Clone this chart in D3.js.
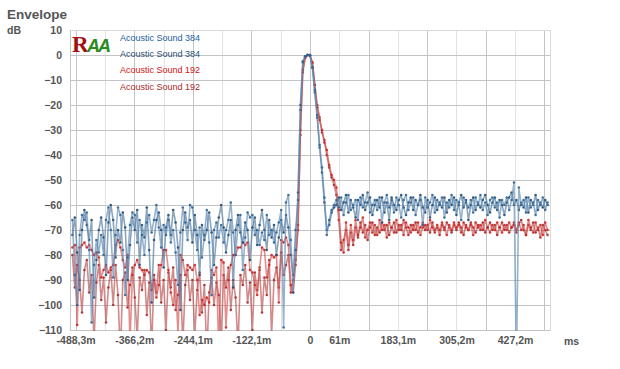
<!DOCTYPE html>
<html>
<head>
<meta charset="utf-8">
<script src="https://cdn.jsdelivr.net/npm/d3@7"></script>
<style>
body { margin: 0; background: #fff; }
text { font-family: "Liberation Sans", Arial, sans-serif; }
</style>
</head>
<body>
<svg id="chart" width="620" height="369"></svg>
<script>
// sample grid: first sample time and spacing in ms
var startMs = -495, stepMs = 5;

var blueA = [
  -66,-88,-100,-72,-64,-66,-63,-78,-107,-84,
  -74,-79,-72,-80,-66,-61,-70,-89,-72,-61,
  -64,-78,-96,-81,-68,-63,-64,-75,-66,-72,
  -80,-67,-64,-71,-66,-60,-69,-77,-68,-72,
  -66,-75,-70,-79,-92,-71,-61,-67,-74,-60,
  -61,-70,-78,-69,-81,-72,-62,-75,-96,-70,
  -67,-73,-68,-75,-70,-66,-59,-71,-80,-68,
  -64,-86,-73,-63,-65,-64,-72,-70,-76,-71,
  -74,-64,-72,-70,-75,-71,-67,-62,-109,-59,
  -56,-74,-95,-78,-55,-20,-2.5,-0.5,0,0,
  -5,-14,-24,-36,-45,-57,-72,-66,-62,-60,
  -58,-61,-57,-64,-59,-56,-62,-60,-58,-66,
  -57,-61,-59,-55,-63,-60,-58,-62,-57,-67,
  -59,-56,-61,-58,-63,-57,-60,-65,-58,-56,
  -62,-59,-57,-64,-60,-58,-68,-57,-61,-59,
  -56,-63,-58,-60,-57,-65,-59,-61,-56,-62,
  -58,-60,-66,-57,-59,-61,-58,-63,-57,-60,
  -56,-62,-59,-64,-58,-57,-61,-59,-65,-58,
  -60,-57,-62,-58,-51,-125,-53,-60,-58,-63,
  -57,-61,-59,-64,-58,-60,-57,-62,-59
];

var blueB = [
  -72,-65,-79,-94,-70,-62,-68,-74,-66,-97,
  -82,-70,-65,-73,-88,-67,-60,-66,-81,-70,
  -75,-63,-69,-90,-76,-65,-70,-62,-84,-68,
  -73,-61,-78,-99,-74,-66,-63,-70,-85,-69,
  -64,-72,-62,-67,-77,-102,-70,-63,-69,-66,
  -75,-64,-72,-88,-68,-74,-70,-63,-71,-84,
  -73,-65,-60,-69,-79,-72,-66,-93,-70,-64,
  -71,-75,-67,-70,-82,-69,-65,-76,-68,-62,
  -70,-78,-66,-73,-68,-80,-73,-66,-71,-64,
  -69,-80,-88,-70,-58,-22,-3,-0.5,0,-0.3,
  -5,-15,-25,-37,-47,-59,-70,-68,-63,-61,
  -60,-57,-62,-59,-56,-63,-58,-61,-65,-58,
  -60,-56,-62,-59,-57,-64,-60,-58,-61,-57,
  -63,-59,-66,-57,-60,-62,-58,-56,-61,-64,
  -59,-57,-62,-58,-60,-56,-61,-63,-58,-65,
  -60,-57,-62,-59,-61,-57,-63,-58,-60,-57,
  -64,-59,-56,-61,-58,-66,-60,-57,-62,-59,
  -61,-58,-56,-60,-63,-59,-57,-62,-58,-60,
  -64,-59,-57,-55,-60,-58,-62,-59,-61,-57,
  -63,-58,-60,-56,-62,-59,-61,-58,-60
];

var redA = [
  -77,-76,-108,-77,-76,-75,-77,-76,-78,-80,
  -79,-81,-89,-86,-84,-87,-85,-84,-76,-74,
  -77,-82,-85,-80,-115,-88,-84,-82,-85,-86,
  -88,-86,-87,-94,-90,-97,-92,-84,-78,-78,
  -86,-95,-100,-90,-112,-80,-82,-88,-84,-85,
  -86,-84,-90,-104,-98,-100,-97,-99,-86,-88,
  -85,-118,-82,-83,-109,-90,-84,-80,-80,-77,
  -77,-75,-76,-75,-86,-87,-92,-96,-85,-77,
  -78,-89,-84,-80,-81,-80,-99,-74,-75,-73,
  -76,-92,-95,-84,-68,-30,-6,-1,0,0,
  -3,-12,-21,-26,-30,-35,-38,-44,-48,-50,
  -53,-62,-75,-79,-67,-76,-68,-74,-66,-72,
  -69,-65,-73,-70,-67,-71,-68,-72,-66,-70,
  -68,-73,-67,-69,-71,-66,-70,-68,-72,-67,
  -69,-71,-68,-70,-67,-72,-69,-68,-70,-66,
  -69,-71,-68,-70,-67,-69,-72,-68,-70,-67,
  -69,-68,-71,-67,-69,-70,-68,-72,-67,-69,
  -68,-70,-66,-69,-71,-68,-70,-67,-69,-71,
  -68,-70,-67,-69,-68,-71,-67,-70,-68,-72,
  -66,-69,-71,-67,-70,-68,-72,-67,-70
];

var redB = [
  -80,-93,-84,-90,-103,-86,-82,-95,-88,-115,
  -91,-84,-98,-89,-107,-93,-86,-100,-84,-96,
  -120,-90,-87,-101,-92,-85,-97,-113,-89,-94,
  -86,-104,-91,-118,-88,-95,-84,-99,-90,-110,
  -87,-93,-85,-102,-96,-88,-116,-92,-86,-98,
  -90,-112,-94,-87,-103,-92,-120,-95,-89,-100,
  -91,-96,-114,-88,-93,-85,-102,-90,-97,-117,
  -88,-92,-84,-99,-91,-110,-87,-94,-86,-103,
  -89,-96,-82,-112,-90,-85,-93,-79,-88,-84,
  -80,-95,-90,-82,-70,-32,-7,-1,0,-0.3,
  -3,-12,-20,-25,-31,-34,-40,-45,-49,-52,
  -56,-66,-78,-74,-70,-78,-71,-76,-69,-73,
  -67,-71,-68,-74,-69,-67,-72,-69,-71,-67,
  -70,-68,-72,-69,-67,-71,-68,-70,-66,-69,
  -72,-68,-70,-67,-71,-69,-67,-70,-68,-71,
  -67,-70,-69,-72,-68,-70,-67,-69,-71,-68,
  -70,-67,-69,-72,-68,-70,-67,-69,-71,-68,
  -70,-67,-71,-69,-67,-70,-68,-72,-69,-67,
  -70,-68,-71,-69,-67,-70,-68,-66,-70,-72,
  -68,-70,-67,-71,-69,-73,-68,-70,-72
];

var seriesNames = ["Acoustic Sound 384", "Acoustic Sound 384", "Acoustic Sound 192", "Acoustic Sound 192"];
var yTicks = [10, 0, -10, -20, -30, -40, -50, -60, -70, -80, -90, -100, -110];
var xMajor = [-488.3, -366.2, -244.1, -122.1, 0, 122.1, 244.1, 366.2, 488.3];
var xMinor = [-427.2, -305.2, -183.1, -61, 61, 183.1, 305.2, 427.2];
var xTicks = [-488.3, -366.2, -244.1, -122.1, 0, 61, 183.1, 305.2, 427.2];
var xLabels = ["-488,3m", "-366,2m", "-244,1m", "-122,1m", "0", "61m", "183,1m", "305,2m", "427,2m"];

var plotL = 70, plotR = 550, plotT = 30, plotB = 330;

var svg = d3.select("#chart");

var x = d3.scaleLinear().domain([-500, 500]).range([plotL, plotR]);
var y = d3.scaleLinear().domain([-110, 10]).range([plotB, plotT]);

svg.append("text")
    .attr("x", 7).attr("y", 19)
    .style("font-size", "13.5px").style("font-weight", "bold")
    .style("fill", "#555")
    .text("Envelope");

svg.append("text")
    .attr("x", 7).attr("y", 34)
    .style("font-size", "10.5px").style("font-weight", "bold")
    .style("fill", "#555")
    .text("dB");

svg.append("text")
    .attr("x", 564).attr("y", 345)
    .style("font-size", "10.5px").style("font-weight", "bold")
    .style("fill", "#555")
    .text("ms");

// gridlines
var grid = svg.append("g");
grid.selectAll(".vminor").data(xMinor).enter().append("line")
    .attr("x1", d => Math.round(x(d)) + 0.5).attr("x2", d => Math.round(x(d)) + 0.5)
    .attr("y1", plotT).attr("y2", plotB)
    .style("stroke", "#e2e2e2").style("stroke-width", 1);
grid.selectAll(".vmajor").data(xMajor).enter().append("line")
    .attr("x1", d => Math.round(x(d)) + 0.5).attr("x2", d => Math.round(x(d)) + 0.5)
    .attr("y1", plotT).attr("y2", plotB)
    .style("stroke", "#c4c4c4").style("stroke-width", 1);
grid.selectAll(".h").data(yTicks.filter(d => d < 10 && d > -110)).enter().append("line")
    .attr("x1", plotL).attr("x2", plotR)
    .attr("y1", d => Math.round(y(d)) + 0.5).attr("y2", d => Math.round(y(d)) + 0.5)
    .style("stroke", "#c4c4c4").style("stroke-width", 1);

// frame
svg.append("rect")
    .attr("x", plotL + 0.5).attr("y", plotT + 0.5)
    .attr("width", plotR - plotL).attr("height", plotB - plotT)
    .style("fill", "none").style("stroke", "#dadada");
svg.append("path")
    .attr("d", "M" + (plotL + 0.5) + "," + plotT + "V" + (plotB + 0.5) + "H" + (plotR + 0.5))
    .style("fill", "none").style("stroke", "#c4c4c4");

// axis labels
var yAxis = d3.axisLeft(y).tickValues(yTicks).tickSize(0).tickPadding(8);
var gy = svg.append("g").attr("transform", "translate(" + plotL + ",0)").call(yAxis);
gy.select(".domain").remove();
gy.selectAll("text")
    .attr("x", -8)
    .style("font-family", "'Liberation Sans', Arial, sans-serif")
    .style("font-size", "10.5px").style("font-weight", "bold").style("fill", "#555");

var xAxis = d3.axisBottom(x).tickValues(xTicks).tickSize(0).tickPadding(7)
    .tickFormat((d, i) => xLabels[i]);
var gx = svg.append("g").attr("transform", "translate(0," + plotB + ")").call(xAxis);
gx.select(".domain").remove();
gx.selectAll("text")
    .style("font-family", "'Liberation Sans', Arial, sans-serif")
    .style("font-size", "10.5px").style("font-weight", "bold").style("fill", "#555");

// clip
svg.append("clipPath").attr("id", "plotclip")
  .append("rect").attr("x", plotL).attr("y", plotT).attr("width", plotR - plotL).attr("height", plotB - plotT + 1);

var series = [
  { values: redB,  line: "#b84a4a", dot: "#a82828" },
  { values: redA,  line: "#d65050", dot: "#cc2020" },
  { values: blueB, line: "#4d7499", dot: "#22496f" },
  { values: blueA, line: "#5d8ab3", dot: "#2c6294" }
];

var line = d3.line()
    .x((d, i) => x(startMs + i * stepMs))
    .y(d => y(d));

var plot = svg.append("g").attr("clip-path", "url(#plotclip)");

series.forEach(function(s) {
  var g = plot.append("g");
  g.append("path")
      .datum(s.values)
      .attr("d", line)
      .style("fill", "none")
      .style("stroke", s.line)
      .style("stroke-width", 1.6)
      .style("stroke-opacity", 0.65)
      .style("stroke-linejoin", "round");
  g.selectAll("circle").data(s.values).enter().append("circle")
      .attr("cx", (d, i) => x(startMs + i * stepMs))
      .attr("cy", d => y(d))
      .attr("r", 1.3)
      .style("fill", s.dot)
      .style("fill-opacity", 0.85);
});

// logo
var logo = svg.append("g").attr("transform", "translate(72,52)");
logo.append("text")
    .attr("x", 0).attr("y", 0)
    .style("font-family", "'Liberation Serif', serif")
    .style("font-size", "23px").style("font-weight", "bold")
    .style("fill", "#a30f0f")
    .text("R");
logo.append("text")
    .attr("x", 15).attr("y", 0)
    .style("font-size", "18px").style("font-weight", "bold").style("font-style", "italic")
    .style("letter-spacing", "-2px")
    .style("fill", "#2c8a1c")
    .text("AA");

// legend
var legendColors = ["#235e9b", "#2a4f76", "#d41010", "#a82a2a"];
svg.selectAll(".legend").data(seriesNames).enter().append("text")
    .attr("x", 120)
    .attr("y", (d, i) => 41 + i * 16.2)
    .style("font-size", "9px")
    .style("fill", (d, i) => legendColors[i])
    .text(d => d);
</script>
</body>
</html>
